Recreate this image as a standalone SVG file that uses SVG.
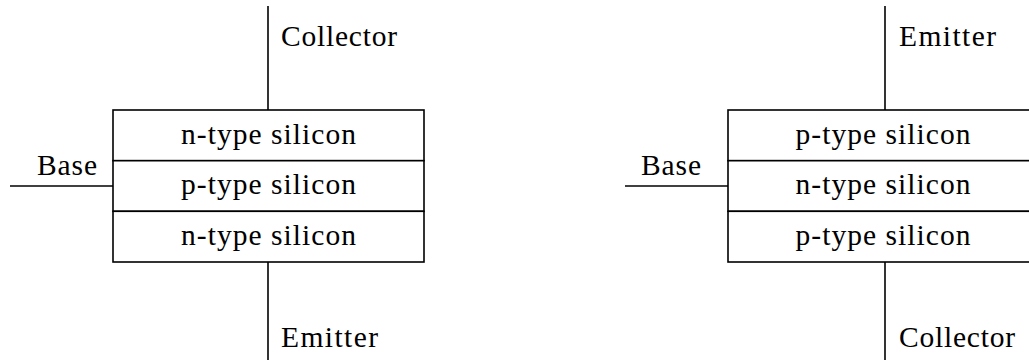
<svg xmlns="http://www.w3.org/2000/svg" width="1029" height="360" viewBox="0 0 1029 360">
  <style>
    .wire { stroke: #000; stroke-width: 1.6; fill: none; }
    .layer { stroke: #000; stroke-width: 1.6; fill: #fff; }
    .lbl { font-family: "Liberation Serif", "Times New Roman", serif; font-size: 29.5px; fill: #000; }
    .mid { text-anchor: middle; }
  </style>
  <rect width="1029" height="360" fill="#fff"/>

  <!-- leads -->
  <g id="connectors">
    <line class="wire" x1="268" y1="6" x2="268" y2="110"/>
    <line class="wire" x1="268" y1="262" x2="268" y2="360"/>
    <line class="wire" x1="10" y1="186" x2="113" y2="186"/>
    <line class="wire" x1="885" y1="6" x2="885" y2="110"/>
    <line class="wire" x1="885" y1="262" x2="885" y2="360"/>
    <line class="wire" x1="625" y1="186" x2="728" y2="186"/>
  </g>

  <!-- NPN stack -->
  <g id="npn">
    <rect class="layer" x="113" y="110" width="311" height="50.7"/>
    <rect class="layer" x="113" y="160.7" width="311" height="50.6"/>
    <rect class="layer" x="113" y="211.3" width="311" height="50.7"/>
    <text class="lbl mid" x="268.5" y="144" textLength="175" lengthAdjust="spacing">n-type silicon</text>
    <text class="lbl mid" x="268.5" y="194" textLength="175" lengthAdjust="spacing">p-type silicon</text>
    <text class="lbl mid" x="268.5" y="245" textLength="175" lengthAdjust="spacing">n-type silicon</text>
  </g>
  <g id="npn-collector"><text class="lbl" x="281" y="46" textLength="116" lengthAdjust="spacing">Collector</text></g>
  <g id="npn-emitter"><text class="lbl" x="281" y="347" textLength="97" lengthAdjust="spacing">Emitter</text></g>
  <g id="npn-base"><text class="lbl" x="37" y="175" textLength="60" lengthAdjust="spacing">Base</text></g>

  <!-- PNP stack -->
  <g id="pnp">
    <rect class="layer" x="728" y="110" width="311" height="50.7"/>
    <rect class="layer" x="728" y="160.7" width="311" height="50.6"/>
    <rect class="layer" x="728" y="211.3" width="311" height="50.7"/>
    <text class="lbl mid" x="883" y="144" textLength="175" lengthAdjust="spacing">p-type silicon</text>
    <text class="lbl mid" x="883" y="194" textLength="175" lengthAdjust="spacing">n-type silicon</text>
    <text class="lbl mid" x="883" y="245" textLength="175" lengthAdjust="spacing">p-type silicon</text>
  </g>
  <g id="pnp-emitter"><text class="lbl" x="899" y="46" textLength="97" lengthAdjust="spacing">Emitter</text></g>
  <g id="pnp-collector"><text class="lbl" x="899" y="347" textLength="116" lengthAdjust="spacing">Collector</text></g>
  <g id="pnp-base"><text class="lbl" x="641" y="175" textLength="60" lengthAdjust="spacing">Base</text></g>
</svg>
